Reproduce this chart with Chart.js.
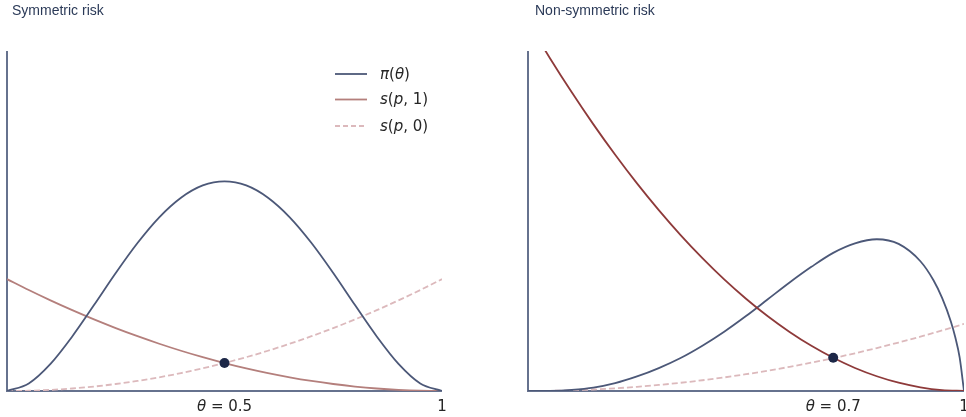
<!DOCTYPE html>
<html><head><meta charset="utf-8">
<script src="https://cdn.jsdelivr.net/npm/chart.js@4.4.0/dist/chart.umd.min.js"></script>
<style>
html,body{margin:0;padding:0;background:#fff;width:966px;height:417px;overflow:hidden;position:relative}
.wrap{position:absolute;top:0;height:417px}
canvas{display:block}
.title{position:absolute;top:2px;font:14px "Liberation Sans",Arial,sans-serif;line-height:16px;color:#2b3a58;white-space:nowrap}
</style></head><body>
<div class="wrap" style="left:0;width:483px"><canvas id="c1" width="483" height="417" style="width:483px;height:417px"></canvas></div>
<div class="wrap" style="left:483px;width:495px"><canvas id="c2" width="495" height="417" style="width:495px;height:417px"></canvas></div>
<div class="title" style="left:12px">Symmetric risk</div>
<div class="title" style="left:535px">Non-symmetric risk</div>
<script>
// ---- data ----
const thetaGrid = [0,0.05,0.1,0.15,0.2,0.25,0.3,0.35,0.4,0.45,0.5,0.55,0.6,0.65,0.7,0.75,0.8,0.85,0.9,0.95,1];
// Symmetric risk panel
const symPrior   = [0,0.068,0.243,0.488,0.768,1.055,1.323,1.553,1.728,1.838,1.875,1.838,1.728,1.553,1.323,1.055,0.768,0.488,0.243,0.068,0];
const symScore1  = [1,0.9025,0.81,0.7225,0.64,0.5625,0.49,0.4225,0.36,0.3025,0.25,0.2025,0.16,0.1225,0.09,0.0625,0.04,0.0225,0.01,0.0025,0];
const symScore0  = [0,0.0025,0.01,0.0225,0.04,0.0625,0.09,0.1225,0.16,0.2025,0.25,0.3025,0.36,0.4225,0.49,0.5625,0.64,0.7225,0.81,0.9025,1];
const symPoint   = {x:0.5, y:0.25};
// Non-symmetric risk panel
const nsPriorTheta = [0,0.05,0.1,0.15,0.2,0.25,0.3,0.35,0.4,0.45,0.5,0.55,0.6,0.65,0.7,0.75,0.8,0.85,0.9,0.93,0.95,0.97,0.98,0.99,1];
const nsPrior      = [0,0.001,0.01,0.03,0.07,0.13,0.205,0.295,0.405,0.53,0.67,0.82,0.97,1.11,1.235,1.32,1.357,1.315,1.16,0.99,0.83,0.62,0.48,0.3,0];
const nsScore1  = [3.3,2.978,2.673,2.384,2.112,1.856,1.617,1.394,1.188,0.998,0.825,0.668,0.528,0.404,0.297,0.206,0.132,0.074,0.033,0.008,0];
const nsScore0  = [0,0.0015,0.006,0.0135,0.024,0.0375,0.054,0.0735,0.096,0.1215,0.15,0.1815,0.216,0.2535,0.294,0.3375,0.384,0.4335,0.486,0.5415,0.6];
const nsPoint   = {x:0.7, y:0.297};
const yMax = 3.04;
const tickValuesSym = [0.5, 1];
const tickLabelsSym = [[['θ',1],[' = 0.5',0]], [['1',0]]];
const tickValuesNs = [0.7, 1];
const tickLabelsNs = [[['θ',1],[' = 0.7',0]], [['1',0]]];
const legendItems = [
  {label:[['π',1],['(',0],['θ',1],[')',0]], color:'#4c5878', dash:[]},
  {label:[['s',1],['(',0],['p',1],[', 1)',0]], color:'#b47f7c', dash:[]},
  {label:[['s',1],['(',0],['p',1],[', 0)',0]], color:'#dcb9bc', dash:[5,3]}
];

const BLUE='#4c5878', AXIS='#66728e', DOT='#1c2747';
const zip = (xs, ys) => xs.map((x,i)=>({x, y:ys[i]}));
const FONT = '"DejaVu Sans", sans-serif';

function drawMath(ctx, segs, x, y, align, size){
  const fonts = segs.map(s => (s[1] ? 'italic ' : '') + size + 'px ' + FONT);
  let w = 0; const ws = [];
  segs.forEach((s,i)=>{ ctx.font = fonts[i]; const m = ctx.measureText(s[0]).width; ws.push(m); w += m; });
  let cx = align === 'center' ? x - w/2 : x;
  segs.forEach((s,i)=>{ ctx.font = fonts[i]; ctx.fillText(s[0], cx, y); cx += ws[i]; });
}

function overlay(tickVals, tickLabs, withLegend){
  return {
    id:'overlay',
    beforeDatasetsDraw(chart){
      const {ctx, chartArea:a} = chart;
      ctx.save();
      ctx.strokeStyle = AXIS; ctx.lineWidth = 2;
      ctx.beginPath();
      ctx.moveTo(a.left, a.top); ctx.lineTo(a.left, a.bottom); ctx.lineTo(a.right, a.bottom);
      ctx.stroke();
      ctx.restore();
    },
    afterDraw(chart){
      const {ctx, chartArea:a, scales} = chart;
      ctx.save();
      ctx.fillStyle = '#262626'; ctx.textBaseline = 'alphabetic';
      tickVals.forEach((v,i)=>{
        drawMath(ctx, tickLabs[i], scales.x.getPixelForValue(v), a.bottom + 20, 'center', 15);
      });
      if (withLegend){
        const rows = [74, 99.5, 126];
        legendItems.forEach((it,i)=>{
          ctx.strokeStyle = it.color; ctx.lineWidth = 1.8; ctx.setLineDash(it.dash);
          ctx.beginPath(); ctx.moveTo(335, rows[i]); ctx.lineTo(367, rows[i]); ctx.stroke();
          ctx.setLineDash([]);
          ctx.textBaseline = 'middle';
          drawMath(ctx, it.label, 380, rows[i] + 1, 'left', 15);
        });
      }
      ctx.restore();
    }
  };
}

function lineDs(data, color, dash){
  return {data, showLine:true, borderColor:color, backgroundColor:color, borderWidth:1.8,
    borderDash:dash||[], pointRadius:0, cubicInterpolationMode:'monotone', fill:false};
}
function dotDs(p){
  return {data:[p], showLine:false, pointRadius:5, pointBackgroundColor:DOT, pointBorderColor:DOT, borderWidth:0};
}
function opts(pad){
  return {
    responsive:false, animation:false, events:[],
    layout:{padding:pad},
    scales:{x:{type:'linear', min:0, max:1, display:false}, y:{type:'linear', min:0, max:yMax, display:false}},
    plugins:{legend:{display:false}, tooltip:{enabled:false}, title:{display:false}}
  };
}

new Chart(document.getElementById('c1'), {
  type:'scatter',
  data:{datasets:[
    dotDs(symPoint),
    lineDs(zip(thetaGrid, symPrior), BLUE),
    lineDs(zip(thetaGrid, symScore1), '#b47f7c'),
    lineDs(zip(thetaGrid, symScore0), '#dcb9bc', [6,3])
  ]},
  options:opts({left:7, right:41, top:51, bottom:26}),
  plugins:[overlay(tickValuesSym, tickLabelsSym, true)]
});

new Chart(document.getElementById('c2'), {
  type:'scatter',
  data:{datasets:[
    dotDs(nsPoint),
    lineDs(zip(thetaGrid, nsScore1), '#8e3a3a'),
    lineDs(zip(nsPriorTheta, nsPrior), BLUE),
    lineDs(zip(thetaGrid, nsScore0), '#dcb9bc', [6,3])
  ]},
  options:opts({left:45, right:14, top:51, bottom:26}),
  plugins:[overlay(tickValuesNs, tickLabelsNs, false)]
});
</script>
</body></html>
